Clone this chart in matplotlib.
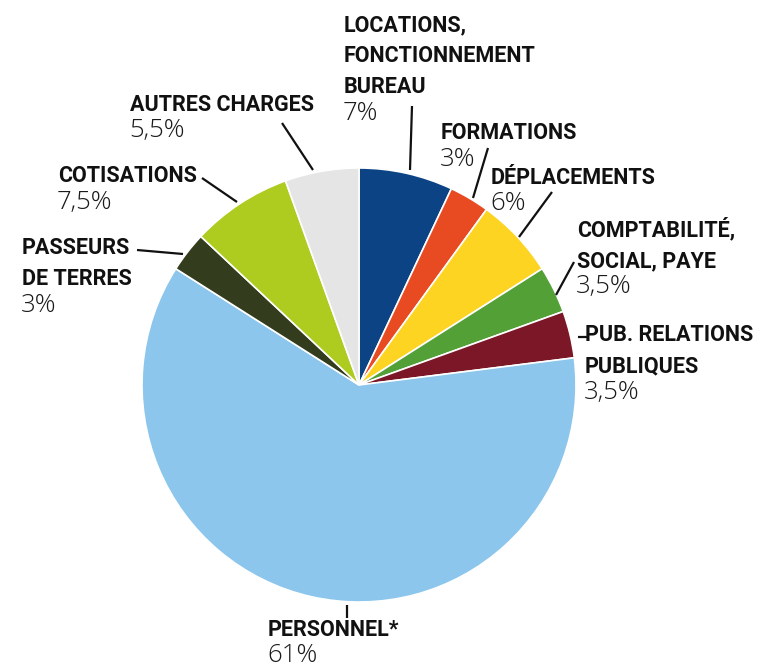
import matplotlib
matplotlib.use("Agg")
import matplotlib.pyplot as plt

categories = ["LOCATIONS,\nFONCTIONNEMENT\nBUREAU", "FORMATIONS", "DÉPLACEMENTS",
              "COMPTABILITÉ,\nSOCIAL, PAYE", "PUB. RELATIONS\nPUBLIQUES", "PERSONNEL*",
              "PASSEURS\nDE TERRES", "COTISATIONS", "AUTRES CHARGES"]
values = [7, 3, 6, 3.5, 3.5, 61, 3, 7.5, 5.5]
pct_labels = ["7%", "3%", "6%", "3,5%", "3,5%", "61%", "3%", "7,5%", "5,5%"]
colors = ["#0B4385", "#E84A22", "#FDD422", "#52A036", "#7B1726", "#8CC6EC",
          "#333D1D", "#AECB1F", "#E5E5E5"]

W, H = 766, 668
fig = plt.figure(figsize=(W / 100, H / 100), dpi=100)
ax = fig.add_axes([0, 0, 1, 1])

cx, cy, r = 359, 385, 217
ax.pie(values, colors=colors, startangle=90, counterclock=False,
       center=(cx, H - cy), radius=r,
       wedgeprops=dict(edgecolor="white", linewidth=1.2))
ax.set_xlim(0, W)
ax.set_ylim(0, H)
ax.set_aspect("equal")
ax.axis("off")

# layout: (x, y of first line centre) in image pixel coords
text_pos = [(344, 25), (441, 133), (491, 178), (577, 230), (585, 335),
            (268, 630), (22, 248), (58, 176), (130, 105)]
line_gap = 31
pct_gap = 26
leaders = [((412, 106), (410, 170)), ((488, 148), (473, 198)), ((552, 192), (519, 237)),
           ((574, 262), (556, 295)), ((578, 337), (587, 337)), ((347, 605), (347, 618)),
           ((137, 250), (183, 254)), ((202, 178), (237, 202)), ((282, 123), (313, 170))]

label_font = dict(family=["Roboto", "DejaVu Sans"], fontweight="bold",
                  fontsize=15.5, color="#111111")
pct_font = dict(family=["Open Sans", "DejaVu Sans"], fontweight="light",
                fontsize=18.5, color="#1a1a1a")

for name, pct, (tx, ty), (p0, p1) in zip(categories, pct_labels, text_pos, leaders):
    lines = name.split("\n")
    for i, ln in enumerate(lines):
        ax.text(tx, H - (ty + i * line_gap), ln, ha="left", va="center", **label_font)
    py = ty + (len(lines) - 1) * line_gap + pct_gap
    ax.text(tx - 1, H - py, pct, ha="left", va="center", **pct_font)
    ax.plot([p0[0], p1[0]], [H - p0[1], H - p1[1]], color="#111111", lw=1.6,
            solid_capstyle="butt")

fig.savefig("out.png", dpi=100)
